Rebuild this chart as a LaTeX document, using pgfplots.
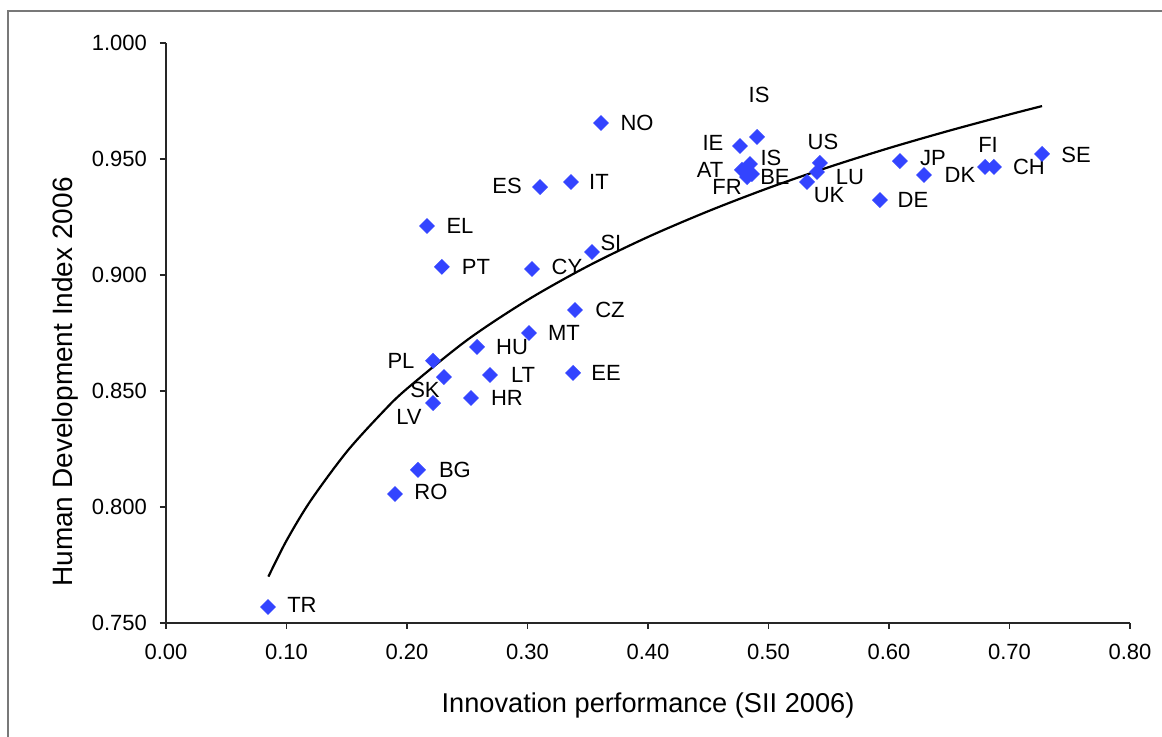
\documentclass[border=0pt]{standalone}
\usepackage{pgfplots}
\pgfplotsset{compat=1.18}
\usepackage{fontspec}
\setmainfont{Liberation Sans}
\definecolor{ptblue}{RGB}{51,68,255}
\definecolor{framegray}{RGB}{120,120,120}

\pgfplotstableread{
x       y       lab  dx     dy
0.0846  0.7569  TR   17     1
0.1900  0.8056  RO   18     1
0.2091  0.8160  BG   18.5   0
0.2216  0.8448  LV   -12    -7
0.2307  0.8560  SK   -9.5   -6.5
0.2216  0.8630  PL   -16    0
0.2531  0.8470  HR   18     0
0.2689  0.8569  LT   16.5   0
0.2581  0.8690  HU   17.5   0
0.3012  0.8750  MT   17.5   0
0.3378  0.8578  EE   16.5   0
0.3394  0.8849  CZ   17.5   0
0.3037  0.9026  CY   17.5   1
0.3535  0.9099  SI   9.5    4.5
0.2290  0.9035  PT   17     0
0.2166  0.9211  EL   16.5   0
0.3104  0.9379  ES   -16.5  0.5
0.3361  0.9401  IT   14     0
0.3610  0.9655  NO   18     0
0.4763  0.9556  IE   -13.5  1.5
0.4905  0.9595  IS   1      21
0.4846  0.9478  IS   10.5   3
0.4780  0.9453  AT   -16    0
0.4822  0.9422  FR   -10    -5
0.4863  0.9435  BE   11.5   -1.5
0.5427  0.9483  US   1.5    10.5
0.5402  0.9444  LU   16.5   -2.5
0.5320  0.9401  UK   11     -6.5
0.5925  0.9323  DE   16.5   0
0.6091  0.9491  JP   16.5   1.5
0.6290  0.9431  DK   18     0
0.6797  0.9466  FI   1.5    11
0.6871  0.9466  CH   17.5   0
0.7270  0.9522  SE   17     -0.5
}\countries

\pgfplotstableread{
x      y
0.085  0.7700
0.100  0.7855
0.120  0.8027
0.150  0.8238
0.180  0.8410
0.200  0.8510
0.250  0.8720
0.300  0.8892
0.350  0.9038
0.400  0.9164
0.450  0.9275
0.500  0.9375
0.550  0.9465
0.600  0.9547
0.650  0.9622
0.700  0.9692
0.727  0.9728
}\fit

\begin{document}
\begin{tikzpicture}
\useasboundingbox (0,0) rectangle (581pt,368.5pt);
\fill[white] (0,0) rectangle (581pt,368.5pt);
\draw[framegray, line width=1pt] (4pt,0) -- (4pt,363pt) -- (581pt,363pt);
\begin{axis}[
  at={(83pt,57pt)}, anchor=south west,
  scale only axis, width=482pt, height=290pt,
  xmin=0, xmax=0.8, ymin=0.75, ymax=1.0,
  axis lines*=left,
  axis line style={black!85, line width=0.6pt},
  xtick={0,0.1,0.2,0.3,0.4,0.5,0.6,0.7,0.8},
  ytick={0.75,0.8,0.85,0.9,0.95,1.0},
  tick align=outside, major tick length=3pt,
  tick style={black!85, line width=0.6pt},
  minor tick num=0,
  x tick label style={/pgf/number format/.cd, fixed, fixed zerofill, precision=2, assume math mode=true, /tikz/.cd, yshift=-4pt},
  y tick label style={/pgf/number format/.cd, fixed, fixed zerofill, precision=3, assume math mode=true, /tikz/.cd, xshift=-3pt},
  ticklabel style={font=\fontsize{11}{13}\selectfont},
  xlabel={Innovation performance (SII 2006)},
  ylabel={Human Development Index 2006},
  xlabel style={font=\fontsize{13.6}{16}\selectfont, at={(axis description cs:0.5,-0.1414)}, anchor=center},
  ylabel style={font=\fontsize{14}{16}\selectfont, at={(axis description cs:-0.1048,0.4155)}, anchor=center},
  clip=false,
]
\addplot[black, line width=1.1pt, smooth] table[x=x, y=y] {\fit};
\addplot[only marks, mark=square*, mark size=2.6pt,
  mark options={rotate=45, fill=ptblue, draw=ptblue},
  nodes near coords, point meta=explicit symbolic,
  visualization depends on={\thisrow{dx} \as \dx},
  visualization depends on={\thisrow{dy} \as \dy},
  nodes near coords style={anchor=center, xshift=\dx pt, yshift=\dy pt,
    font=\fontsize{11}{13}\selectfont, text=black, inner sep=0pt}]
  table[x=x, y=y, meta=lab] {\countries};
\end{axis}
\end{tikzpicture}
\end{document}
